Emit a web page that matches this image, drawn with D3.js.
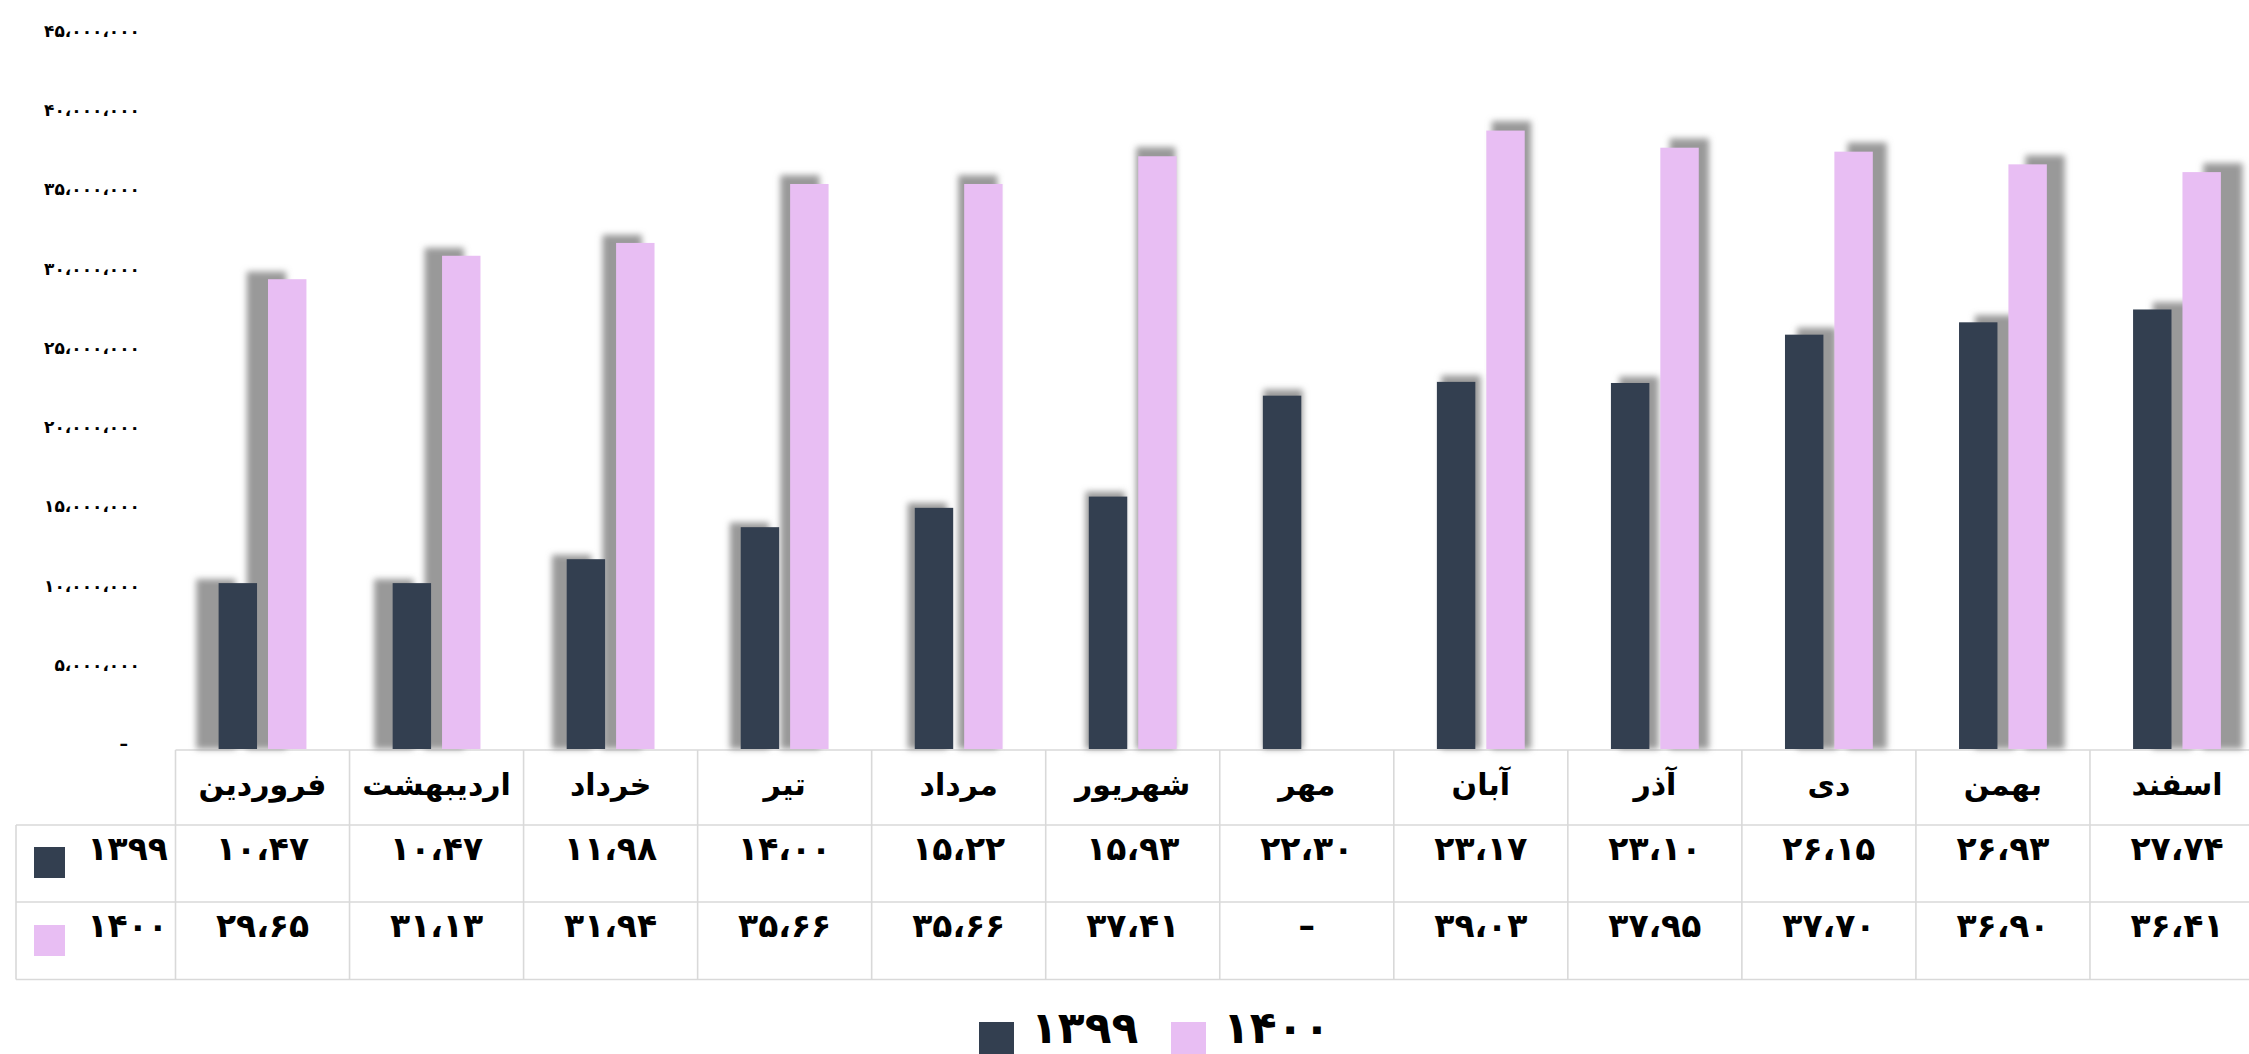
<!DOCTYPE html>
<html><head><meta charset="utf-8">
<script src="https://cdn.jsdelivr.net/npm/d3@7"></script>
<style>html,body{margin:0;padding:0;background:#fff;overflow:hidden}
text{font-family:"DejaVu Sans",sans-serif;font-weight:bold;fill:#000}</style>
</head><body>
<svg id="c" width="2249" height="1054"></svg>
<script>
// ---- data ----
const months = ["فروردین","اردیبهشت","خرداد","تیر","مرداد","شهریور","مهر","آبان","آذر","دی","بهمن","اسفند"];
const seriesNames = ["1399","1400"];
const values1399 = [10.47,10.47,11.98,14.00,15.22,15.93,22.30,23.17,23.10,26.15,26.93,27.74]; // millions
const values1400 = [29.65,31.13,31.94,35.66,35.66,37.41,null,39.03,37.95,37.70,36.90,36.41]; // millions
const yTicks = [0,5000000,10000000,15000000,20000000,25000000,30000000,35000000,40000000,45000000];
const colors = ["#333F50","#E8BEF3"];

// ---- helpers ----
const fa = s => String(s).replace(/[0-9]/g, d => "۰۱۲۳۴۵۶۷۸۹"[+d]);
const fmtTick = v => v === 0 ? "–" : fa(d3.format(",")(v)).replace(/,/g, "،");
const fmtVal = v => v == null ? "–" : fa(v.toFixed(2)).replace(".", "،");

const svg = d3.select("#c");
svg.append("rect").attr("width",2249).attr("height",1054).attr("fill","#fff");

const defs = svg.append("defs");
defs.append("filter").attr("id","blur").attr("x","-50%").attr("y","-10%").attr("width","200%").attr("height","120%")
  .append("feGaussianBlur").attr("stdDeviation",3);

const x = d3.scaleBand().domain(months).range([175.5, 2264]).padding(0);
const x1 = d3.scaleBand().domain(seriesNames).range([0, x.bandwidth()]).paddingInner(0.222).paddingOuter(0.8726);
const y = d3.scaleLinear().domain([0, 45000000]).range([749, 36]);

const data = months.map((m,i) => ({m, vals:[values1399[i], values1400[i]]}));
const bars = [];
data.forEach(d => d.vals.forEach((v,j) => { if (v != null) bars.push({m:d.m, s:seriesNames[j], v:v*1e6, c:colors[j]}); }));

// ---- table ----
const rowY = [750, 825, 902, 979.5];
const tLeft = 16, tRight = 2264;
const tbl = svg.append("g").attr("stroke","#d9d9d9").attr("stroke-width",1.6);
tbl.append("line").attr("x1",x.range()[0]).attr("x2",tRight).attr("y1",rowY[0]).attr("y2",rowY[0]);
[1,2,3].forEach(r => tbl.append("line").attr("x1",tLeft).attr("x2",tRight).attr("y1",rowY[r]).attr("y2",rowY[r]));
tbl.append("line").attr("x1",tLeft).attr("x2",tLeft).attr("y1",rowY[1]).attr("y2",rowY[3]);
months.forEach(m => tbl.append("line").attr("x1",x(m)).attr("x2",x(m)).attr("y1",rowY[0]).attr("y2",rowY[3]));
tbl.append("line").attr("x1",tRight).attr("x2",tRight).attr("y1",rowY[0]).attr("y2",rowY[3]);

// header
svg.append("g").selectAll("text").data(months).join("text")
  .attr("x", m => x(m) + x.bandwidth()/2).attr("y", 795)
  .attr("text-anchor","middle").attr("font-size",30).text(m => m);
// rows
const rows = [values1399, values1400];
rows.forEach((vals, r) => {
  const base = r === 0 ? 860 : 937;
  svg.append("g").selectAll("text").data(vals).join("text")
    .attr("x", (v,i) => x(months[i]) + x.bandwidth()/2).attr("y", base)
    .attr("text-anchor","middle").attr("font-size",33).text(v => fmtVal(v));
  svg.append("rect").attr("x",34).attr("y", r === 0 ? 847 : 925).attr("width",31).attr("height",31).attr("fill",colors[r]);
  svg.append("text").attr("x",168).attr("y",base).attr("text-anchor","end").attr("font-size",33).text(fa(seriesNames[r]));
});

// ---- shadows ----
const cx = 1235, k = 0.022;
svg.append("g").attr("filter","url(#blur)").selectAll("rect").data(bars).join("rect")
  .each(function(d){
    const bx = x(d.m) + x1(d.s), w = x1.bandwidth();
    const c = bx + w/2;
    const nc = cx + (c - cx)*(1+k), nw = w*(1+k);
    const h = y(0) - y(d.v);
    const nh = h*1.012 + 2;
    d3.select(this).attr("x", nc - nw/2).attr("width", nw).attr("y", y(0) - nh).attr("height", nh);
  })
  .attr("fill","#999");

// ---- bars ----
svg.append("g").selectAll("rect").data(bars).join("rect")
  .attr("x", d => x(d.m) + x1(d.s)).attr("width", x1.bandwidth())
  .attr("y", d => y(d.v)).attr("height", d => y(0) - y(d.v)).attr("fill", d => d.c);

// ---- y axis ----
const yAxis = d3.axisLeft(y).tickValues(yTicks).tickSize(0).tickPadding(0).tickFormat(fmtTick);
const ga = svg.append("g").attr("transform","translate(140,-5)").call(yAxis);
ga.select(".domain").remove();
ga.selectAll("text").attr("font-size",17).attr("font-family","DejaVu Sans").attr("font-weight","bold").attr("fill","#000")
  .attr("dx", d => d === 0 ? -12 : 0);

// ---- legend ----
const lg = svg.append("g");
const legendItems = [{s:seriesNames[0], c:colors[0], x:979}, {s:seriesNames[1], c:colors[1], x:1171}];
lg.selectAll("rect").data(legendItems).join("rect").attr("x",d=>d.x).attr("y",1022).attr("width",35).attr("height",35).attr("fill",d=>d.c);
lg.selectAll("text").data(legendItems).join("text").attr("x",d=>d.x+52).attr("y",1043)
  .attr("font-size",44).text(d=>fa(d.s));
</script>
</body></html>
